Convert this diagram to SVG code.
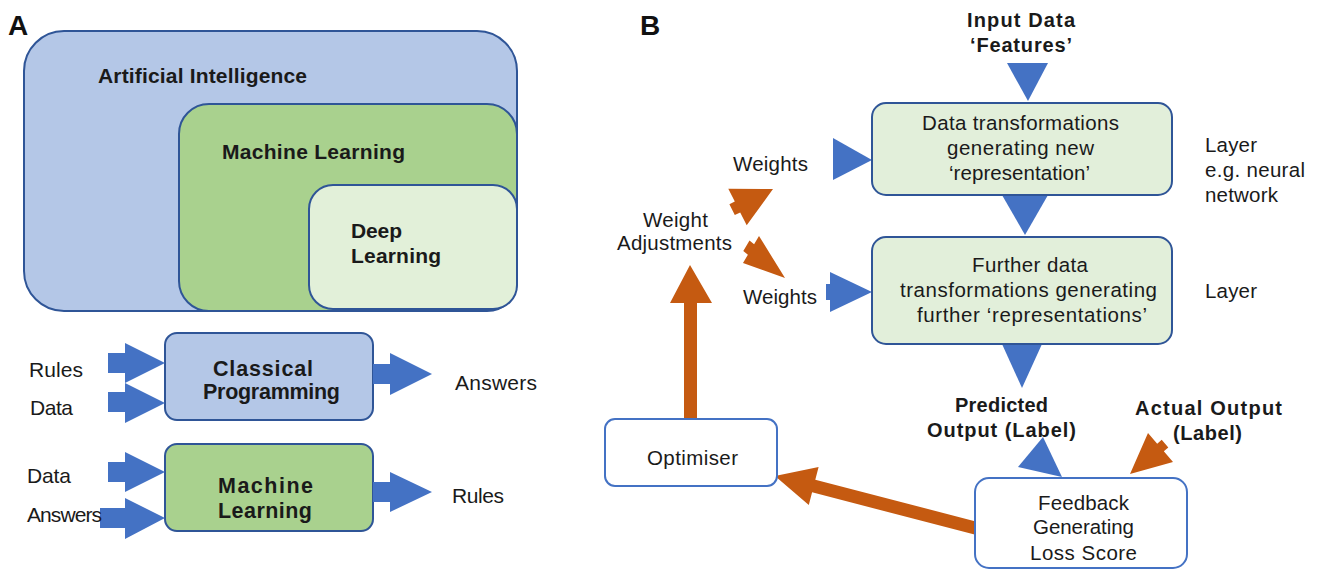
<svg xmlns="http://www.w3.org/2000/svg" width="1321" height="571" viewBox="0 0 1321 571">
<style>
  .t { font-family: "Liberation Sans", Arial, sans-serif; fill: #1a1a1a; }
  .b { font-weight: bold; }
  .ra { font-size: 21px; }
  .rb { font-size: 20.5px; }
  .bb { font-size: 20px; }
  .bx { stroke: #2f5597; stroke-width: 2; }
  .wb { fill: #ffffff; stroke: #4472c4; stroke-width: 2; }
  .blue { fill: #4472c4; }
  .orange { fill: #c55a11; }
  .panel { font-family: "Liberation Sans", Arial, sans-serif; font-weight: bold; font-size: 28px; fill: #111; }
</style>
<rect width="1321" height="571" fill="#ffffff"/>

<text class="panel" x="8" y="35">A</text>
<text class="panel" x="640" y="35">B</text>

<g id="ai">
  <rect class="bx" x="24" y="31" width="493" height="280" rx="40" fill="#b4c7e7"/>
  <text class="t b ra" x="98" y="83" textLength="209" lengthAdjust="spacing">Artificial Intelligence</text>
</g>
<g id="ml">
  <rect class="bx" x="179" y="104" width="338" height="207" rx="30" fill="#a9d18e"/>
  <text class="t b ra" x="222" y="159" textLength="183" lengthAdjust="spacing">Machine Learning</text>
</g>
<g id="dl">
  <rect class="bx" x="309" y="185" width="208" height="124" rx="24" fill="#e2f0d9"/>
  <text class="t b ra" x="351" y="238" textLength="51" lengthAdjust="spacing">Deep</text>
  <text class="t b ra" x="351" y="263" textLength="90" lengthAdjust="spacing">Learning</text>
</g>

<g id="classical">
  <rect class="bx" x="165" y="333" width="208" height="87" rx="12" fill="#b4c7e7"/>
  <text class="t b" font-size="21.5" x="213" y="376" textLength="100" lengthAdjust="spacing">Classical</text>
  <text class="t b" font-size="21.5" x="203" y="399" textLength="137" lengthAdjust="spacing">Programming</text>
</g>
<g id="mlbox">
  <rect class="bx" x="165" y="444" width="208" height="87" rx="12" fill="#a9d18e"/>
  <text class="t b" font-size="21.5" x="218" y="493" textLength="95" lengthAdjust="spacing">Machine</text>
  <text class="t b" font-size="21.5" x="218" y="518" textLength="94" lengthAdjust="spacing">Learning</text>
</g>

<g id="connectors">
  <!-- panel A block arrows -->
  <polygon class="blue" points="108,353 125,353 125,343 165,363 125,383 125,373 108,373"/>
  <polygon class="blue" points="108,392 125,392 125,383 165,403 125,423 125,412 108,412"/>
  <polygon class="blue" points="373,364 390,364 390,353 432,374 390,395 390,384 373,384"/>
  <polygon class="blue" points="108,462 125,462 125,452 165,472 125,492 125,482 108,482"/>
  <polygon class="blue" points="100,508 125,508 125,498 165,518 125,539 125,528 100,528"/>
  <polygon class="blue" points="373,482 390,482 390,472 432,492 390,512 390,502 373,502"/>

  <!-- panel B blue triangles -->
  <polygon class="blue" points="1007,63 1048,63 1028,101"/>
  <polygon class="blue" points="1002,195 1048,195 1025,235"/>
  <polygon class="blue" points="1002,344 1042,344 1022,388"/>
  <polygon class="blue" points="833,138 833,180 872,160"/>
  <polygon class="blue" points="830,272 830,284 826,284 826,300 830,300 830,312 872,292"/>
  <polygon class="blue" points="1043,437 1062,477 1018,467"/>

  <!-- panel B orange arrows -->
  <polygon class="orange" points="773,189 746.7,225.2 740.2,212.4 734.8,215.1 729.4,204.3 734.8,201.6 728.3,188.8"/>
  <polygon class="orange" points="785,278 759,236 754.1,244.3 749.5,240.5 743.3,250.9 747.9,254.7 743,263"/>
  <polygon class="orange" points="1130,474 1148,433 1157.2,443.7 1161.7,439.8 1168.3,447.4 1163.8,451.3 1173,462"/>
  <polygon class="orange" points="690,265 712,303 697,303 697,419 684,419 684,303 670,303"/>
  <polygon class="orange" points="775,476 818.6,467 815.3,479.7 980.6,522.7 977.4,535.3 812.1,492.3 808.8,505"/>
</g>

<g id="labels-a">
  <text class="t ra" x="29" y="377" textLength="54" lengthAdjust="spacing">Rules</text>
  <text class="t ra" x="30" y="415" textLength="43" lengthAdjust="spacing">Data</text>
  <text class="t ra" x="27" y="483" textLength="44" lengthAdjust="spacing">Data</text>
  <text class="t ra" x="27" y="522" textLength="75" lengthAdjust="spacing">Answers</text>
  <text class="t ra" x="455" y="390" textLength="82" lengthAdjust="spacing">Answers</text>
  <text class="t ra" x="452" y="503" textLength="52" lengthAdjust="spacing">Rules</text>
</g>

<g id="input">
  <text class="t b bb" x="967" y="27" textLength="108" lengthAdjust="spacing">Input Data</text>
  <text class="t b bb" x="970" y="52" textLength="102" lengthAdjust="spacing">‘Features’</text>
</g>

<g id="layer1">
  <rect class="bx" x="872" y="103" width="300" height="92" rx="14" fill="#e2efda"/>
  <text class="t rb" x="922" y="130" textLength="197" lengthAdjust="spacing">Data transformations</text>
  <text class="t rb" x="947" y="155" textLength="147" lengthAdjust="spacing">generating new</text>
  <text class="t rb" x="949" y="180" textLength="141" lengthAdjust="spacing">‘representation’</text>
</g>
<g id="layer2">
  <rect class="bx" x="872" y="237" width="300" height="107" rx="14" fill="#e2efda"/>
  <text class="t rb" x="972" y="272" textLength="116" lengthAdjust="spacing">Further data</text>
  <text class="t rb" x="900" y="297" textLength="257" lengthAdjust="spacing">transformations generating</text>
  <text class="t rb" x="917" y="322" textLength="230" lengthAdjust="spacing">further ‘representations’</text>
</g>

<g id="layer-notes">
  <text class="t rb" x="1205" y="152" textLength="52" lengthAdjust="spacing">Layer</text>
  <text class="t rb" x="1205" y="177" textLength="100" lengthAdjust="spacing">e.g. neural</text>
  <text class="t rb" x="1205" y="202" textLength="73" lengthAdjust="spacing">network</text>
  <text class="t rb" x="1205" y="298" textLength="52" lengthAdjust="spacing">Layer</text>
</g>

<g id="weights">
  <text class="t rb" x="733" y="171" textLength="75" lengthAdjust="spacing">Weights</text>
  <text class="t rb" x="743" y="304" textLength="74" lengthAdjust="spacing">Weights</text>
  <text class="t rb" x="643" y="227" textLength="65" lengthAdjust="spacing">Weight</text>
  <text class="t rb" x="617" y="250" textLength="115" lengthAdjust="spacing">Adjustments</text>
</g>

<g id="outputs">
  <text class="t b bb" x="955" y="412" textLength="93" lengthAdjust="spacing">Predicted</text>
  <text class="t b bb" x="927" y="437" textLength="149" lengthAdjust="spacing">Output (Label)</text>
  <text class="t b bb" x="1135" y="415" textLength="147" lengthAdjust="spacing">Actual Output</text>
  <text class="t b bb" x="1173" y="440" textLength="69" lengthAdjust="spacing">(Label)</text>
</g>

<g id="optimiser">
  <rect class="wb" x="605" y="419" width="172" height="67" rx="10"/>
  <text class="t rb" x="647" y="465" textLength="91" lengthAdjust="spacing">Optimiser</text>
</g>

<g id="feedback">
  <rect class="wb" x="975" y="478" width="212" height="90" rx="14"/>
  <text class="t rb" x="1038" y="510" textLength="91" lengthAdjust="spacing">Feedback</text>
  <text class="t rb" x="1033" y="534" textLength="101" lengthAdjust="spacing">Generating</text>
  <text class="t rb" x="1030" y="560" textLength="107" lengthAdjust="spacing">Loss Score</text>
</g>
</svg>
